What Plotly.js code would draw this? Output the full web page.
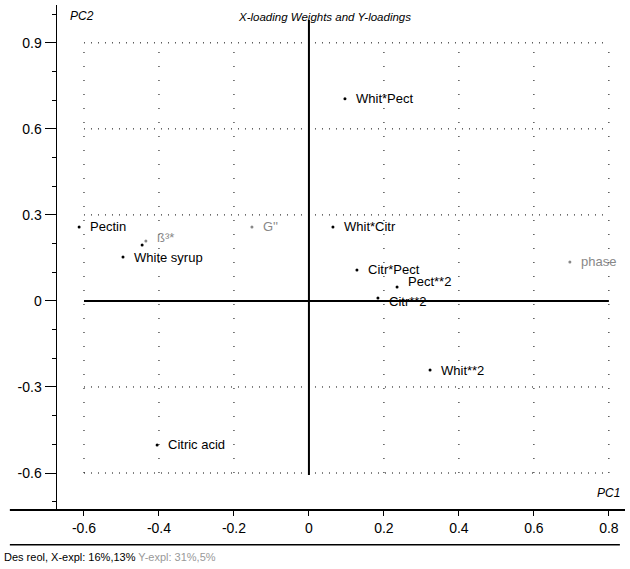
<!DOCTYPE html>
<html>
<head>
<meta charset="utf-8">
<script src="https://cdn.plot.ly/plotly-3.0.1.min.js"></script>
<style>html,body{margin:0;padding:0;background:#fff;}#chart{width:630px;height:569px;}</style>
</head>
<body>
<div id="chart"></div>
<script>
// Data
var labels = ["Whit*Pect", "Pectin", "ß³*", "", "White syrup", "G''", "Whit*Citr", "Citr*Pect", "Pect**2", "Citr**2", "phase", "Whit**2", "Citric acid"];
var pc1 = [0.096, -0.613, -0.435, -0.445, -0.496, -0.152, 0.064, 0.128, 0.235, 0.184, 0.696, 0.323, -0.405];
var pc2 = [0.705, 0.258, 0.209, 0.195, 0.153, 0.258, 0.258, 0.108, 0.049, 0.010, 0.136, -0.241, -0.502];
var grey = [false, false, true, false, false, true, false, false, false, false, true, false, false];
var labelYShift = [0, 0, 4, 0, 0, 0, 0, 0, 5, -3, 0, 0, 0];

var xTicks = [-0.6, -0.4, -0.2, 0, 0.2, 0.4, 0.6, 0.8];
var xTickText = ["-0.6", "-0.4", "-0.2", "0", "0.2", "0.4", "0.6", "0.8"];
var yTicks = [-0.6, -0.3, 0, 0.3, 0.6, 0.9];
var yTickText = ["-0.6", "-0.3", "0", "0.3", "0.6", "0.9"];

var FONT = "'Liberation Sans Narrow', 'Arial Narrow', 'Liberation Sans', Arial, sans-serif";

var trace = {
  x: pc1, y: pc2, type: 'scatter', mode: 'markers',
  marker: {size: 3, color: grey.map(function(g){return g ? '#888' : '#000';})},
  hoverinfo: 'none', showlegend: false, cliponaxis: false
};

var shapes = [];
var gx0 = xTicks[0], gx1 = xTicks[xTicks.length-1];
var gy0 = yTicks[0], gy1 = yTicks[yTicks.length-1];
xTicks.forEach(function(v){
  if (v !== 0) shapes.push({type:'line', xref:'x', yref:'y', x0:v, x1:v, y0:gy0, y1:gy1,
    line:{color:'#000', width:1, dash:'1px,13px'}});
});
yTicks.forEach(function(v){
  if (v !== 0) shapes.push({type:'line', xref:'x', yref:'y', x0:gx0, x1:gx1, y0:v, y1:v,
    line:{color:'#000', width:1, dash:'1px,6px'}});
});
// zero lines
shapes.push({type:'line', xref:'x', yref:'y', x0:gx0, x1:gx1, y0:0, y1:0, line:{color:'#000', width:2}});
shapes.push({type:'line', xref:'x', yref:'y', x0:0, x1:0, y0:-0.607, y1:0.98, line:{color:'#000', width:2}});
// bottom axis line extended and separator line
shapes.push({type:'line', xref:'paper', yref:'paper', x0:-0.083, x1:1.0, y0:0, y1:0, line:{color:'#000', width:2}});
shapes.push({type:'line', xref:'paper', yref:'paper', x0:-0.083, x1:0.991, y0:-0.069, y1:-0.069, line:{color:'#000', width:1.5}});

var annotations = [];
labels.forEach(function(t, i){
  if (!t) return;
  annotations.push({x: pc1[i], y: pc2[i], xref:'x', yref:'y', text: t, showarrow:false,
    xanchor:'left', yanchor:'middle', xshift: 9, yshift: labelYShift[i],
    font:{family: FONT, size: 13, color: grey[i] ? '#888' : '#000'}});
});
annotations.push({xref:'paper', yref:'paper', x:0.471, y:0.976, text:'<i>X-loading Weights and Y-loadings</i>',
  showarrow:false, xanchor:'center', yanchor:'middle', font:{family:FONT, size:11.5, color:'#000'}});
annotations.push({xref:'paper', yref:'paper', x:0.019, y:0.979, text:'<i>PC2</i>',
  showarrow:false, xanchor:'left', yanchor:'middle', font:{family:FONT, size:12, color:'#000'}});
annotations.push({xref:'paper', yref:'paper', x:0.995, y:0.034, text:'<i>PC1</i>',
  showarrow:false, xanchor:'right', yanchor:'middle', font:{family:FONT, size:12, color:'#000'}});
annotations.push({xref:'paper', yref:'paper', x:-0.097, y:-0.094, text:'Des reol, X-expl: 16%,13% <span style="color:#999">Y-expl: 31%,5%</span>',
  showarrow:false, xanchor:'left', yanchor:'middle', font:{family:FONT, size:11, color:'#000'}});

var layout = {
  width: 630, height: 569,
  margin: {l: 57, r: 5, t: 5, b: 59, pad: 0},
  paper_bgcolor: '#fff', plot_bgcolor: '#fff',
  font: {family: FONT, size: 13, color: '#000'},
  xaxis: {range: [-0.672, 0.843], tickvals: xTicks, ticktext: xTickText,
    showgrid: false, zeroline: false, showline: false,
    ticks: 'outside', ticklen: 5, tickcolor: '#000', tickwidth: 1,
    tickfont: {family: FONT, size: 14, color: '#000'}, fixedrange: true},
  yaxis: {range: [-0.729, 1.032], tickvals: yTicks, ticktext: yTickText,
    showgrid: false, zeroline: false, showline: true, linecolor: '#000', linewidth: 1.5,
    ticks: 'outside', ticklen: 11, tickcolor: '#000', tickwidth: 1,
    minor: {dtick: 0.1, tick0: 0, ticks: 'outside', ticklen: 4, tickcolor: '#000', tickwidth: 1, showgrid: false},
    tickfont: {family: FONT, size: 14, color: '#000'}, fixedrange: true},
  shapes: shapes,
  annotations: annotations
};

Plotly.newPlot('chart', [trace], layout, {displayModeBar: false, staticPlot: true});
</script>
</body>
</html>
